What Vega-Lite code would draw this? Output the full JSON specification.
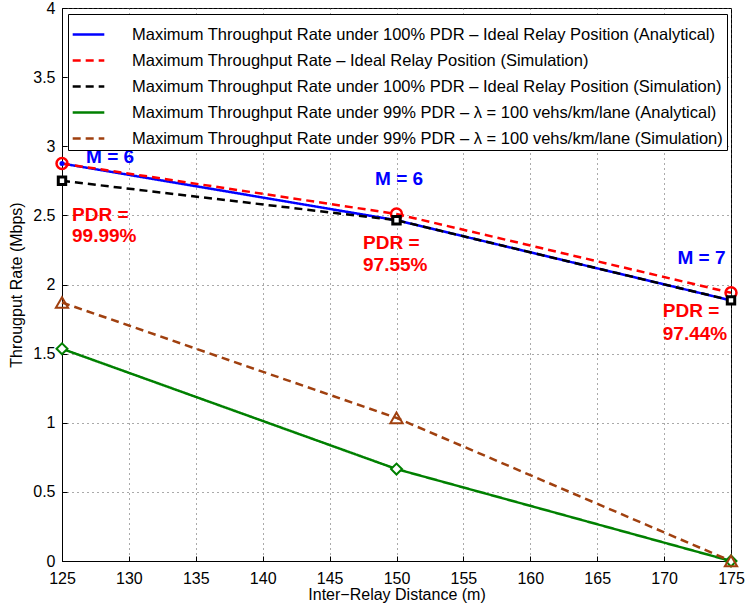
{
  "$schema": "https://vega.github.io/schema/vega-lite/v6.json",
  "width": 669,
  "height": 553,
  "autosize": {"type": "none"},
  "padding": {"left": 62, "top": 8, "right": 14, "bottom": 48},
  "background": "white",
  "config": {
    "font": "Liberation Sans",
    "view": {"stroke": "black", "strokeWidth": 1},
    "axis": {
      "labelFont": "Liberation Sans", "labelFontSize": 16, "labelColor": "black", "labelFlush": false,
      "titleFont": "Liberation Sans", "titleFontSize": 16, "titleFontWeight": "normal", "titleColor": "black",
      "domainColor": "black", "tickColor": "black", "gridColor": "#555", "gridDash": [1, 4], "gridOpacity": 1
    },
    "legend": {
      "fillColor": "white", "strokeColor": "black", "padding": 3,
      "labelFont": "Liberation Sans", "labelFontSize": 16.5, "labelColor": "black", "labelLimit": 800, "labelOffset": 26,
      "symbolStrokeWidth": 2.5, "rowPadding": 0
    }
  },
  "datasets": {
    "lines": [
      {"s": "Maximum Throughput Rate under 100% PDR –  Ideal Relay Position (Analytical)", "x": 125, "y": 2.875},
      {"s": "Maximum Throughput Rate under 100% PDR –  Ideal Relay Position (Analytical)", "x": 150, "y": 2.465},
      {"s": "Maximum Throughput Rate under 100% PDR –  Ideal Relay Position (Analytical)", "x": 175, "y": 1.885},
      {"s": "Maximum Throughput Rate – Ideal Relay Position (Simulation)", "x": 125, "y": 2.875},
      {"s": "Maximum Throughput Rate – Ideal Relay Position (Simulation)", "x": 150, "y": 2.51},
      {"s": "Maximum Throughput Rate – Ideal Relay Position (Simulation)", "x": 175, "y": 1.94},
      {"s": "Maximum Throughput Rate under 100% PDR – Ideal Relay Position (Simulation)", "x": 125, "y": 2.75},
      {"s": "Maximum Throughput Rate under 100% PDR – Ideal Relay Position (Simulation)", "x": 150, "y": 2.465},
      {"s": "Maximum Throughput Rate under 100% PDR – Ideal Relay Position (Simulation)", "x": 175, "y": 1.885},
      {"s": "Maximum Throughput Rate under 99% PDR – λ = 100 vehs/km/lane (Analytical)", "x": 125, "y": 1.535},
      {"s": "Maximum Throughput Rate under 99% PDR – λ = 100 vehs/km/lane (Analytical)", "x": 150, "y": 0.665},
      {"s": "Maximum Throughput Rate under 99% PDR – λ = 100 vehs/km/lane (Analytical)", "x": 175, "y": 0.0},
      {"s": "Maximum Throughput Rate under 99% PDR – λ = 100 vehs/km/lane (Simulation)", "x": 125, "y": 1.87},
      {"s": "Maximum Throughput Rate under 99% PDR – λ = 100 vehs/km/lane (Simulation)", "x": 150, "y": 1.035},
      {"s": "Maximum Throughput Rate under 99% PDR – λ = 100 vehs/km/lane (Simulation)", "x": 175, "y": 0.0}
    ],
    "notes": [
      {"t": "M = 6", "x": 126.8, "y": 2.92, "k": "M"},
      {"t": "M = 6", "x": 148.4, "y": 2.76, "k": "M"},
      {"t": "M = 7", "x": 171.0, "y": 2.195, "k": "M"},
      {"t": "PDR =", "x": 125.75, "y": 2.5, "k": "P"},
      {"t": "99.99%", "x": 125.75, "y": 2.35, "k": "P"},
      {"t": "PDR =", "x": 147.5, "y": 2.3, "k": "P"},
      {"t": "97.55%", "x": 147.5, "y": 2.14, "k": "P"},
      {"t": "PDR =", "x": 169.9, "y": 1.81, "k": "P"},
      {"t": "97.44%", "x": 169.9, "y": 1.645, "k": "P"}
    ]
  },
  "layer": [
    {
      "data": {"name": "lines"},
      "mark": {"type": "line", "strokeWidth": 2.5},
      "encoding": {
        "x": {"field": "x", "type": "quantitative",
          "scale": {"domain": [125, 175], "nice": false, "zero": false},
          "axis": {"orient": "bottom", "title": "Inter−Relay Distance (m)", "values": [125, 130, 135, 140, 145, 150, 155, 160, 165, 170, 175], "format": "d", "grid": true, "tickSize": -5, "labelPadding": 14, "titlePadding": 0}},
        "y": {"field": "y", "type": "quantitative",
          "scale": {"domain": [0, 4], "nice": false},
          "axis": {"orient": "left", "title": "Througput Rate (Mbps)", "values": [0, 0.5, 1, 1.5, 2, 2.5, 3, 3.5, 4], "format": "~g", "grid": true, "tickSize": -5, "labelPadding": 12, "titlePadding": 8}},
        "color": {"field": "s", "type": "nominal",
          "legend": {"title": null, "orient": "top-left", "offset": 6, "symbolType": "stroke", "symbolSize": 1000},
          "scale": {"domain": [
            "Maximum Throughput Rate under 100% PDR –  Ideal Relay Position (Analytical)",
            "Maximum Throughput Rate – Ideal Relay Position (Simulation)",
            "Maximum Throughput Rate under 100% PDR – Ideal Relay Position (Simulation)",
            "Maximum Throughput Rate under 99% PDR – λ = 100 vehs/km/lane (Analytical)",
            "Maximum Throughput Rate under 99% PDR – λ = 100 vehs/km/lane (Simulation)"],
            "range": ["#0000ff", "#ff0000", "#000000", "#008000", "#a0400f"]}},
        "strokeDash": {"field": "s", "type": "nominal",
          "legend": {"title": null, "orient": "top-left", "offset": 6, "symbolType": "stroke", "symbolSize": 1000},
          "scale": {"domain": [
            "Maximum Throughput Rate under 100% PDR –  Ideal Relay Position (Analytical)",
            "Maximum Throughput Rate – Ideal Relay Position (Simulation)",
            "Maximum Throughput Rate under 100% PDR – Ideal Relay Position (Simulation)",
            "Maximum Throughput Rate under 99% PDR – λ = 100 vehs/km/lane (Analytical)",
            "Maximum Throughput Rate under 99% PDR – λ = 100 vehs/km/lane (Simulation)"],
            "range": [[1, 0], [8, 5], [8, 5], [1, 0], [8, 5]]}}
      }
    },
    {
      "data": {"name": "lines"},
      "transform": [{"filter": "datum.s === 'Maximum Throughput Rate under 100% PDR –  Ideal Relay Position (Analytical)'"}],
      "mark": {"type": "point", "shape": "circle", "filled": true, "color": "#0000ff", "size": 25, "opacity": 1},
      "encoding": {"x": {"field": "x", "type": "quantitative"}, "y": {"field": "y", "type": "quantitative"}}
    },
    {
      "data": {"name": "lines"},
      "transform": [{"filter": "datum.s === 'Maximum Throughput Rate – Ideal Relay Position (Simulation)'"}],
      "mark": {"type": "point", "shape": "circle", "filled": false, "stroke": "#ff0000", "strokeWidth": 2.5, "size": 120, "opacity": 1},
      "encoding": {"x": {"field": "x", "type": "quantitative"}, "y": {"field": "y", "type": "quantitative"}}
    },
    {
      "data": {"name": "lines"},
      "transform": [{"filter": "datum.s === 'Maximum Throughput Rate under 100% PDR – Ideal Relay Position (Simulation)'"}],
      "mark": {"type": "point", "shape": "square", "filled": true, "fill": "#ffffff", "stroke": "#000000", "strokeWidth": 3, "size": 55, "opacity": 1},
      "encoding": {"x": {"field": "x", "type": "quantitative"}, "y": {"field": "y", "type": "quantitative"}}
    },
    {
      "data": {"name": "lines"},
      "transform": [{"filter": "datum.s === 'Maximum Throughput Rate under 99% PDR – λ = 100 vehs/km/lane (Analytical)'"}],
      "mark": {"type": "point", "shape": "diamond", "filled": true, "fill": "#ffffff", "stroke": "#008000", "strokeWidth": 2, "size": 120, "opacity": 1},
      "encoding": {"x": {"field": "x", "type": "quantitative"}, "y": {"field": "y", "type": "quantitative"}}
    },
    {
      "data": {"name": "lines"},
      "transform": [{"filter": "datum.s === 'Maximum Throughput Rate under 99% PDR – λ = 100 vehs/km/lane (Simulation)'"}],
      "mark": {"type": "point", "shape": "triangle-up", "filled": false, "stroke": "#a0400f", "strokeWidth": 2, "size": 150, "opacity": 1},
      "encoding": {"x": {"field": "x", "type": "quantitative"}, "y": {"field": "y", "type": "quantitative"}}
    },
    {
      "data": {"name": "notes"},
      "transform": [{"filter": "datum.k === 'M'"}],
      "mark": {"type": "text", "align": "left", "baseline": "middle", "fontSize": 19, "fontWeight": "bold", "font": "Liberation Sans", "color": "#0000ff"},
      "encoding": {"x": {"field": "x", "type": "quantitative"}, "y": {"field": "y", "type": "quantitative"}, "text": {"field": "t"}}
    },
    {
      "data": {"name": "notes"},
      "transform": [{"filter": "datum.k === 'P'"}],
      "mark": {"type": "text", "align": "left", "baseline": "middle", "fontSize": 19, "fontWeight": "bold", "font": "Liberation Sans", "color": "#ff0000"},
      "encoding": {"x": {"field": "x", "type": "quantitative"}, "y": {"field": "y", "type": "quantitative"}, "text": {"field": "t"}}
    }
  ]
}
